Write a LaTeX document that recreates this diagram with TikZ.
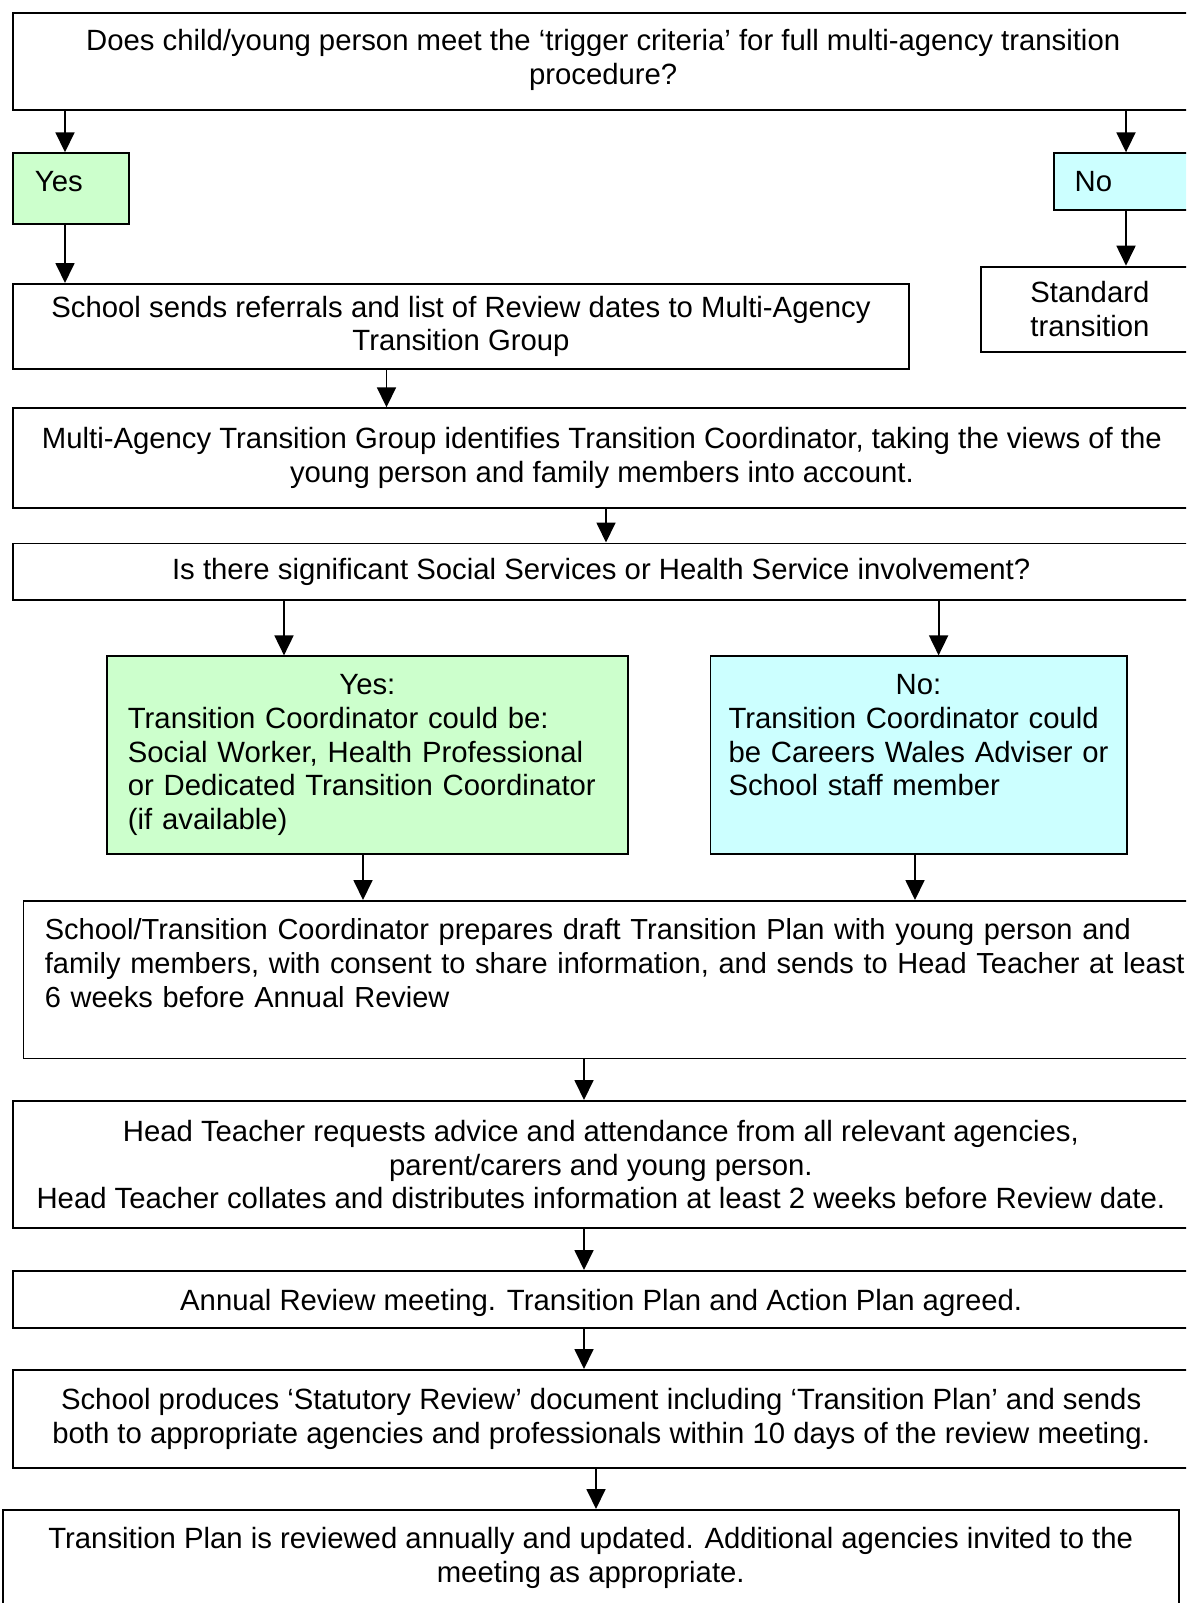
\documentclass[tikz,border=0pt]{standalone}
\usepackage{fontspec}
\setmainfont{Liberation Sans}
\usetikzlibrary{arrows.meta}
\definecolor{ygreen}{HTML}{CCFFCC}
\definecolor{nblue}{HTML}{CCFFFF}
\begin{document}
\begin{tikzpicture}[x=1pt,y=-1pt,
  box/.style={draw,line width=1.8pt,rectangle,inner sep=0pt,anchor=north west,
    font=\fontsize{29.3}{33.7}\selectfont,align=center},
  arr/.style={line width=1.8pt,-{Triangle[width=19pt,length=20pt]}}]
\useasboundingbox (0,0) rectangle (1186,1603);
\clip (0,0) rectangle (1186,1603);

\node[box,minimum width=1180pt,minimum height=97pt,text depth=10pt] (q1) at (12.3,12.3)
  {Does child/young person meet the ‘trigger criteria’ for full multi-agency transition\\procedure?};
\node[box,fill=ygreen,minimum width=115.4pt,minimum height=71pt,text width=72pt,align=left,text depth=14pt] (yes) at (12.3,152.3) {Yes};
\node[box,fill=nblue,minimum width=150pt,minimum height=57pt,text width=108pt,align=left] (no) at (1052.7,152.3) {No};
\node[box,minimum width=895.6pt,minimum height=85pt] (refer) at (12.3,283)
  {School sends referrals and list of Review dates to Multi-Agency\\Transition Group};
\node[box,minimum width=218pt,minimum height=85pt] (std) at (980,265.7)
  {Standard\\transition};
\node[box,minimum width=1177.4pt,minimum height=99.4pt] (mag) at (12.3,407.3)
  {Multi-Agency Transition Group identifies Transition Coordinator, taking the views of the\\young person and family members into account.};
\node[box,minimum width=1176pt,minimum height=56.5pt] (q2) at (12.3,542.5)
  {Is there significant Social Services or Health Service involvement?};
\node[box,fill=ygreen,minimum width=520.4pt,minimum height=197.3pt,text width=479pt,align=left] (ycoord) at (106.3,655.4)
  {\makebox[479pt]{Yes:}\\Transition Coordinator could be:\\Social Worker, Health Professional\\or Dedicated Transition Coordinator\\(if available)};
\node[box,fill=nblue,minimum width=416.2pt,minimum height=197.3pt,text width=380pt,align=left] (ncoord) at (709.5,655.4)
  {\makebox[380pt]{No:}\\Transition Coordinator could\\be Careers Wales Adviser or\\School staff member\\\vphantom{(}};
\node[box,minimum width=1200pt,minimum height=157.5pt,text width=1157pt,align=left,
  font=\fontsize{29.0}{33.7}\selectfont] (draft) at (22.5,900)
  {School/Transition Coordinator prepares draft Transition Plan with young person and\\family members, with consent to share information, and sends to Head Teacher at least\\6 weeks before Annual Review\\\mbox{}};
\node[box,minimum width=1175.4pt,minimum height=127.3pt] (head) at (12.3,1100)
  {Head Teacher requests advice and attendance from all relevant agencies,\\parent/carers and young person.\\Head Teacher collates and distributes information at least 2 weeks before Review date.};
\node[box,minimum width=1176pt,minimum height=56.7pt,text height=28pt] (annual) at (12.3,1270)
  {Annual Review meeting. Transition Plan and Action Plan agreed.};
\node[box,minimum width=1176pt,minimum height=98.3pt] (stat) at (12.3,1369)
  {School produces ‘Statutory Review’ document including ‘Transition Plan’ and sends\\both to appropriate agencies and professionals within 10 days of the review meeting.};
\node[box,minimum width=1175.7pt,minimum height=110pt,text depth=20pt] (upd) at (2,1509)
  {Transition Plan is reviewed annually and updated. Additional agencies invited to the\\meeting as appropriate.};

\draw[arr] (q1.south -| 65,0) -- (yes.north -| 65,0);
\draw[arr] (q1.south -| 1126,0) -- (no.north -| 1126,0);
\draw[arr] (yes.south -| 65,0) -- (refer.north -| 65,0);
\draw[arr] (no.south -| 1126,0) -- (std.north -| 1126,0);
\draw[arr] (refer.south -| 386.5,0) -- (mag.north -| 386.5,0);
\draw[arr] (mag.south -| 606,0) -- (q2.north -| 606,0);
\draw[arr] (q2.south -| 284,0) -- (ycoord.north -| 284,0);
\draw[arr] (q2.south -| 938.6,0) -- (ncoord.north -| 938.6,0);
\draw[arr] (ycoord.south -| 363,0) -- (draft.north -| 363,0);
\draw[arr] (ncoord.south -| 915,0) -- (draft.north -| 915,0);
\draw[arr] (draft.south -| 584,0) -- (head.north -| 584,0);
\draw[arr] (head.south -| 584,0) -- (annual.north -| 584,0);
\draw[arr] (annual.south -| 584,0) -- (stat.north -| 584,0);
\draw[arr] (stat.south -| 596,0) -- (upd.north -| 596,0);
\end{tikzpicture}
\end{document}
